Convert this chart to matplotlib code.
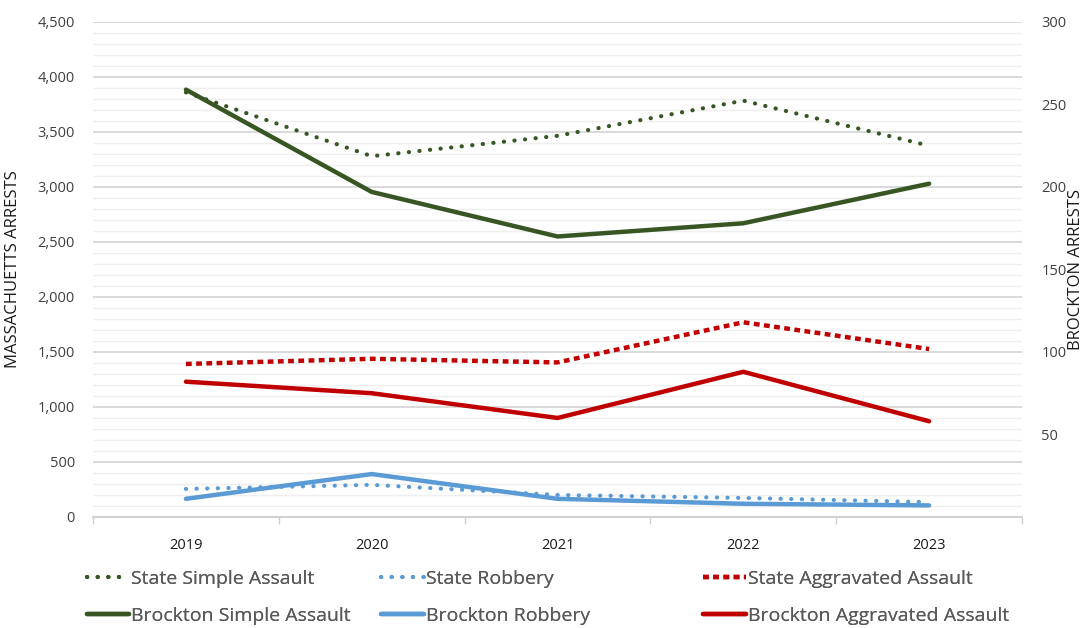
import matplotlib.pyplot as plt
from matplotlib.ticker import FuncFormatter, MultipleLocator, FixedLocator

plt.rcParams['font.family'] = ['Open Sans', 'DejaVu Sans']

years = ['2019', '2020', '2021', '2022', '2023']

# state values (left axis)
state_simple = [3860, 3280, 3465, 3785, 3375]
state_robbery = [255, 292, 200, 173, 135]
state_aggravated = [1391, 1438, 1405, 1770, 1527]

# brockton values (right axis)
brockton_simple = [259, 197, 170, 178, 202]
brockton_robbery = [11, 26, 11, 8, 7]
brockton_aggravated = [82, 75, 60, 88, 58]

green = '#375623'
blue = '#5b9bd5'
red = '#c00000'

fig = plt.figure(figsize=(10.83, 6.28), dpi=100)
ax = fig.add_axes([0.0859, 0.1768, 0.8578, 0.7882])
ax2 = ax.twinx()

x = range(len(years))
round_dots = dict(linestyle=(0, (0.05, 2.5)), dash_capstyle='round', lw=3.0)
square_dots = dict(linestyle=(0, (1.3, 1.0)), dash_capstyle='butt', lw=3.2)

h1, = ax.plot(x, state_simple, color=green, **round_dots)
h3, = ax.plot(x, state_robbery, color=blue, **round_dots)
h5, = ax.plot(x, state_aggravated, color=red, **square_dots)
h2, = ax2.plot(x, brockton_simple, color=green, lw=3.2, solid_capstyle='round')
h4, = ax2.plot(x, brockton_robbery, color=blue, lw=3.2, solid_capstyle='round')
h6, = ax2.plot(x, brockton_aggravated, color=red, lw=3.2, solid_capstyle='round')

ax.set_xlim(-0.5, 4.5)
ax.set_ylim(0, 4500)
ax2.set_ylim(0, 300)

ax.yaxis.set_major_locator(MultipleLocator(500))
ax.yaxis.set_minor_locator(MultipleLocator(100))
ax.yaxis.set_major_formatter(FuncFormatter(lambda v, p: f'{int(v):,}'))
ax.grid(axis='y', which='major', color='#d9d9d9', lw=1.4)
ax.grid(axis='y', which='minor', color='#efefef', lw=1.0)
ax.set_axisbelow(True)
ax.tick_params(axis='y', which='both', length=0, labelsize=10.5, labelcolor='#404040', pad=13)

ax.set_xticks(list(x))
ax.set_xticklabels(years)
ax.xaxis.set_minor_locator(FixedLocator([-0.5, 0.5, 1.5, 2.5, 3.5, 4.5]))
ax.tick_params(axis='x', which='major', length=0, labelsize=10.5, labelcolor='#1a1a1a', pad=15)
ax.tick_params(axis='x', which='minor', length=5, color='#d0d0d0', width=1)

ax2.set_yticks([50, 100, 150, 200, 250, 300])
ax2.tick_params(axis='y', length=0, labelsize=10.5, labelcolor='#404040', pad=14)

for a in (ax, ax2):
    for s in ['top', 'left', 'right']:
        a.spines[s].set_visible(False)
    a.spines['bottom'].set_color('#d0d0d0')
    a.spines['bottom'].set_linewidth(1.2)

ax.set_ylabel('MASSACHUETTS ARRESTS', fontsize=12, color='#1a1a1a', labelpad=12)
ax2.set_ylabel('BROCKTON ARRESTS', fontsize=12, color='#1a1a1a', rotation=90,
               va='top', labelpad=1)

# legend: three columns, state on top, brockton below
groups = [
    ([h1, h2], ['State Simple Assault', 'Brockton Simple Assault'], 0.080),
    ([h3, h4], ['State Robbery', 'Brockton Robbery'], 0.352),
    ([h5, h6], ['State Aggravated Assault', 'Brockton Aggravated Assault'], 0.649),
]
for hs, ls, xpos in groups:
    leg = fig.legend(hs, ls, loc='upper left', bbox_to_anchor=(xpos, 0.092),
                     frameon=False, fontsize=14, labelcolor='#595959',
                     handlelength=2.2, handletextpad=0.1, labelspacing=0.95,
                     borderpad=0, borderaxespad=0)
    fig.add_artist(leg)

fig.savefig('out.png', dpi=100)
